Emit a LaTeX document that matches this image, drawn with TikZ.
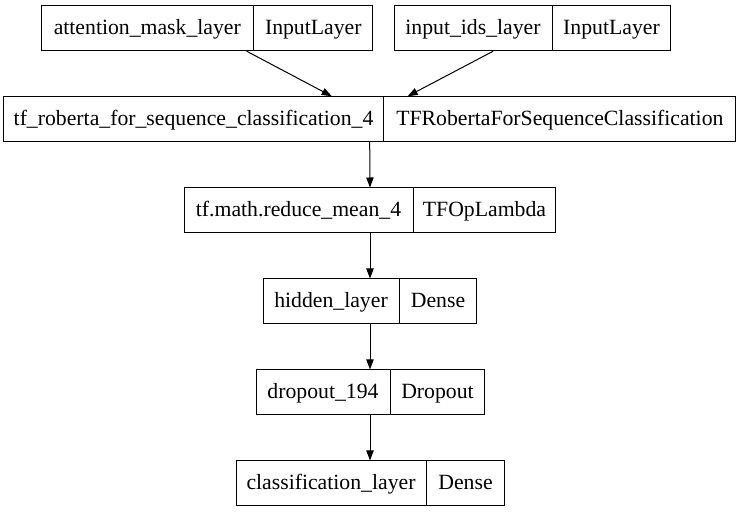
\documentclass[tikz,border=0pt]{standalone}
\usepackage{fontspec}
\IfFontExistsTF{LiberationSerif-Regular.ttf}
  {\setmainfont{LiberationSerif-Regular.ttf}}
  {\setmainfont{Liberation Serif}}
\usetikzlibrary{shapes.multipart,arrows.meta}
\newlength\px
\setlength\px{0.75pt}
\newcommand\cell[2]{\makebox[#1\px]{\rule[-12.2pt]{0pt}{33.75pt}#2}}

\begin{document}
\begin{tikzpicture}[x=0.75pt,y=-0.75pt,
                layer/.style={draw,line width=0.75pt,rectangle split,rectangle split horizontal,
                    rectangle split parts=2,inner sep=0pt,font=\rmfamily\fontsize{16.3}{19}\selectfont},
                arr/.style={-{Triangle[length=7.5pt,width=5.5pt]},line width=0.75pt}]
                \useasboundingbox (0,0) rectangle (740,513);
                \node[layer] (att) at (207.3,28.2) {\cell{211}{attention\_mask\_layer}\nodepart{two}\cell{119}{InputLayer}};
                \node[layer] (inp) at (532.5,28.2) {\cell{157}{input\_ids\_layer}\nodepart{two}\cell{118}{InputLayer}};
                \node[layer] (tf) at (369.7,119.2) {\cell{379.4}{tf\_roberta\_for\_sequence\_classification\_4}\nodepart{two}\cell{351.3}{TFRobertaForSequenceClassification}};
                \node[layer] (red) at (370,210.5) {\cell{228}{tf.math.reduce\_mean\_4}\nodepart{two}\cell{142}{TFOpLambda}};
                \node[layer] (hid) at (370,301.5) {\cell{135}{hidden\_layer}\nodepart{two}\cell{77}{Dense}};
                \node[layer] (drop) at (370,392.5) {\cell{134}{dropout\_194}\nodepart{two}\cell{93}{Dropout}};
                \node[layer] (cls) at (370,483.5) {\cell{190}{classification\_layer}\nodepart{two}\cell{77}{Dense}};
                \draw[arr] ([xshift=29.5pt]att.south) -- ([xshift=-28.5pt]tf.north);
                \draw[arr] ([xshift=-29.5pt]inp.south) -- ([xshift=28.5pt]tf.north);
                \draw[arr] (tf.south) -- (red.north);
                \draw[arr] (red.south) -- (hid.north);
                \draw[arr] (hid.south) -- (drop.north);
                \draw[arr] (drop.south) -- (cls.north);
\end{tikzpicture}
\end{document}
